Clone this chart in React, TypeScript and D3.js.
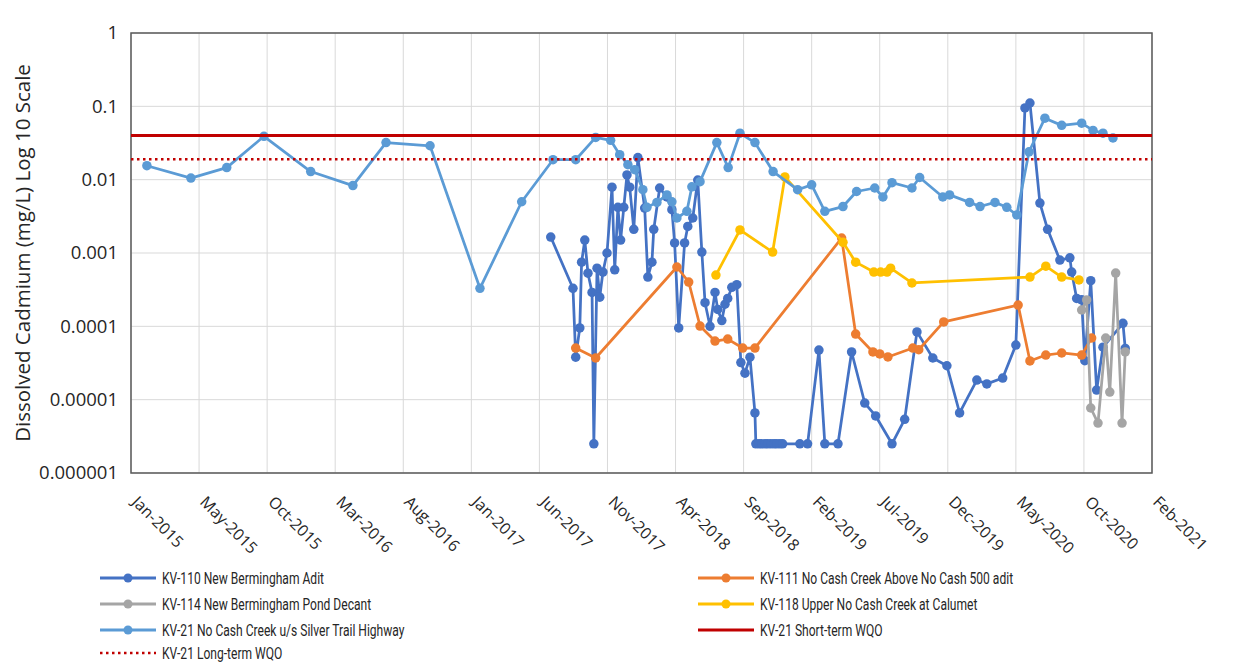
import * as d3 from 'd3';

// sample dates and dissolved cadmium (mg/L) per station
const kv110Dates = [
  '2017-07-14', '2017-09-01', '2017-09-07', '2017-09-16', '2017-09-20', '2017-09-27', '2017-10-04',
  '2017-10-13', '2017-10-17', '2017-10-24', '2017-10-30', '2017-11-06', '2017-11-15', '2017-11-26',
  '2017-12-02', '2017-12-09', '2017-12-15', '2017-12-22', '2017-12-29', '2018-01-04', '2018-01-13',
  '2018-01-22', '2018-02-06', '2018-02-13', '2018-02-22', '2018-02-26', '2018-03-11', '2018-03-27',
  '2018-04-07', '2018-04-13', '2018-04-22', '2018-05-05', '2018-05-12', '2018-05-23', '2018-06-03',
  '2018-06-12', '2018-06-19', '2018-06-30', '2018-07-11', '2018-07-17', '2018-07-26', '2018-08-02',
  '2018-08-08', '2018-08-17', '2018-08-28', '2018-09-06', '2018-09-15', '2018-09-26', '2018-10-07',
  '2018-10-09', '2018-10-16', '2018-10-22', '2018-10-29', '2018-11-04', '2018-11-11', '2018-11-18',
  '2018-11-24', '2018-12-01', '2018-12-07', '2019-01-14', '2019-01-31', '2019-02-25', '2019-03-10',
  '2019-04-08', '2019-05-08', '2019-06-06', '2019-06-30', '2019-08-05', '2019-09-02', '2019-09-29',
  '2019-11-03', '2019-12-04', '2020-01-01', '2020-02-08', '2020-03-01', '2020-04-05', '2020-05-04',
  '2020-05-24', '2020-06-04', '2020-06-26', '2020-07-13', '2020-08-09', '2020-08-31', '2020-09-04',
  '2020-09-15', '2020-09-26', '2020-10-03', '2020-10-16', '2020-10-29', '2020-11-12', '2020-12-26',
  '2020-12-31',
];
const kv110Values = [
  0.00165, 0.00033, 0.000038, 0.000095, 0.00075, 0.0015, 0.00053,
  0.00029, 0.0000025, 0.00062, 0.00025, 0.00055, 0.001, 0.0079,
  0.00059, 0.0042, 0.0015, 0.0042, 0.0116, 0.0079, 0.0021,
  0.02, 0.0041, 0.00047, 0.00075, 0.0021, 0.0077, 0.0058,
  0.0039, 0.00137, 0.000095, 0.00137, 0.0023, 0.003, 0.0099,
  0.00103, 0.00021, 0.0001, 0.00029, 0.00017, 0.00012, 0.0002,
  0.00024, 0.00034, 0.00037, 0.000032, 0.000023, 0.000038, 0.0000066,
  0.0000025, 0.0000025, 0.0000025, 0.0000025, 0.0000025, 0.0000025, 0.0000025,
  0.0000025, 0.0000025, 0.0000025, 0.0000025, 0.0000025, 0.0000475, 0.0000025,
  0.0000025, 0.0000447, 0.000009, 0.000006, 0.0000025, 0.0000054, 0.000084,
  0.000037, 0.000029, 0.0000066, 0.0000185, 0.0000164, 0.0000197, 0.0000556,
  0.095, 0.111, 0.0048, 0.0021, 0.0008, 0.00086, 0.00055,
  0.00024, 0.00023, 0.000034, 0.00042, 0.0000135, 0.000052, 0.00011,
  0.00005,
];

const kv111Dates = [
  '2017-09-07', '2017-10-21', '2018-04-18', '2018-05-14', '2018-06-08', '2018-07-11', '2018-08-08',
  '2018-09-10', '2018-10-07', '2019-04-16', '2019-05-17', '2019-06-24', '2019-07-09', '2019-07-27',
  '2019-09-20', '2019-10-03', '2019-11-27', '2020-05-09', '2020-06-04', '2020-07-09', '2020-08-13',
  '2020-09-26', '2020-10-18',
];
const kv111Values = [
  0.0000506, 0.000037, 0.000644, 0.000402, 0.000101, 0.000063, 0.000067,
  0.0000506, 0.0000506, 0.0016, 0.0000785, 0.0000447, 0.000042, 0.0000382,
  0.0000506, 0.000048, 0.000115, 0.000195, 0.0000337, 0.0000406, 0.0000433,
  0.0000406, 0.0000693,
];

const kv114Dates = [
  '2020-09-26', '2020-10-07', '2020-10-16', '2020-11-01', '2020-11-18', '2020-11-27', '2020-12-10',
  '2020-12-24', '2020-12-31',
];
const kv114Values = [
  0.000167, 0.000229, 0.0000077, 0.0000048, 0.0000693, 0.0000127, 0.000533,
  0.0000048, 0.0000447,
];

const kv118Dates = [
  '2018-07-13', '2018-09-04', '2018-11-15', '2018-12-12', '2019-04-19', '2019-05-17', '2019-06-26',
  '2019-07-11', '2019-07-25', '2019-08-02', '2019-09-18', '2020-06-04', '2020-07-09', '2020-08-13',
  '2020-09-20',
];
const kv118Values = [
  0.0005, 0.00206, 0.00103, 0.0109, 0.0014, 0.00075, 0.00055,
  0.00055, 0.00055, 0.00062, 0.00039, 0.00047, 0.00066, 0.00047,
  0.00043,
];

const kv21Dates = [
  '2015-02-05', '2015-05-13', '2015-07-31', '2015-10-21', '2016-02-01', '2016-05-04', '2016-07-16',
  '2016-10-21', '2017-02-08', '2017-05-11', '2017-07-19', '2017-09-07', '2017-10-21', '2017-11-23',
  '2017-12-13', '2017-12-31', '2018-01-15', '2018-02-02', '2018-02-11', '2018-03-05', '2018-03-27',
  '2018-04-07', '2018-04-18', '2018-05-10', '2018-05-21', '2018-06-08', '2018-07-15', '2018-08-09',
  '2018-09-04', '2018-10-07', '2018-11-16', '2019-01-09', '2019-02-09', '2019-03-10', '2019-04-19',
  '2019-05-19', '2019-06-28', '2019-07-16', '2019-08-05', '2019-09-18', '2019-10-05', '2019-11-25',
  '2019-12-10', '2020-01-23', '2020-02-15', '2020-03-19', '2020-04-14', '2020-05-06', '2020-06-02',
  '2020-07-07', '2020-08-13', '2020-09-26', '2020-10-21', '2020-11-12', '2020-12-04',
];
const kv21Values = [
  0.0155, 0.0105, 0.0146, 0.039, 0.0129, 0.0083, 0.032,
  0.029, 0.00033, 0.005, 0.0187, 0.0187, 0.0377, 0.0344,
  0.0219, 0.016, 0.0137, 0.0073, 0.0042, 0.0049, 0.0062,
  0.005, 0.003, 0.0037, 0.008, 0.0094, 0.032, 0.0146,
  0.043, 0.032, 0.0129, 0.0073, 0.0085, 0.0037, 0.0043,
  0.0069, 0.0077, 0.0058, 0.0091, 0.0077, 0.0107, 0.0058,
  0.0062, 0.0049, 0.0043, 0.0049, 0.0042, 0.0033, 0.024,
  0.069, 0.055, 0.059, 0.047, 0.043, 0.037,
];

const shortTermWqo = 0.04;
const longTermWqo = 0.019;

const yTicks = [1, 0.1, 0.01, 0.001, 0.0001, 0.00001, 0.000001];
const yTickLabels = ['1', '0.1', '0.01', '0.001', '0.0001', '0.00001', '0.000001'];
const axisStart = '2015-01-01';
const axisEnd = '2021-02-28';
const tickStepDays = 150;

const seriesNames = [
  'KV-110 New Bermingham Adit',
  'KV-111 No Cash Creek Above No Cash 500 adit',
  'KV-114 New Bermingham Pond Decant',
  'KV-118 Upper No Cash Creek at Calumet',
  'KV-21 No Cash Creek u/s Silver Trail Highway',
  'KV-21 Short-term WQO',
  'KV-21 Long-term WQO',
];
const colors = ['#4472C4', '#ED7D31', '#A5A5A5', '#FFC000', '#5B9BD5', '#C00000', '#C00000'];

const width = 1248;
const height = 663;
const margin = { top: 33, right: 96, bottom: 190, left: 131 };
const font = "'Open Sans', 'Noto Sans', sans-serif";
const legendFont = "Roboto, 'Noto Sans', sans-serif";

const parse = d3.utcParse('%Y-%m-%d');

export default function App() {
  const x = d3.scaleUtc(
    [parse(axisStart)!, parse(axisEnd)!],
    [margin.left, width - margin.right],
  );
  const y = d3.scaleLog([1e-6, 1], [height - margin.bottom, margin.top]);
  const x0 = margin.left;
  const x1 = width - margin.right;
  const y0 = height - margin.bottom;
  const y1 = margin.top;

  const xTicks = d3.range(0, 16).map((i) => d3.utcDay.offset(parse(axisStart)!, i * tickStepDays));
  const fmt = d3.utcFormat('%b-%Y');

  const series = [
    { dates: kv110Dates, values: kv110Values },
    { dates: kv111Dates, values: kv111Values },
    { dates: kv114Dates, values: kv114Values },
    { dates: kv118Dates, values: kv118Values },
    { dates: kv21Dates, values: kv21Values },
  ].map((s, i) => ({
    color: colors[i],
    pts: s.dates.map((d, j) => [x(parse(d)!), y(s.values[j])] as [number, number]),
  }));

  const line = d3.line();

  const legendRows = [
    { i: 0, lx: 100, ly: 578 },
    { i: 1, lx: 698, ly: 578 },
    { i: 2, lx: 100, ly: 604 },
    { i: 3, lx: 698, ly: 604 },
    { i: 4, lx: 100, ly: 630 },
    { i: 5, lx: 698, ly: 630 },
    { i: 6, lx: 100, ly: 653 },
  ];

  return (
    <svg
      width={width}
      height={height}
      style={{ position: 'absolute', left: 0, top: 0, background: '#fff' }}
    >
      {/* grid */}
      <g stroke='#d9d9d9' strokeWidth={1}>
        {yTicks.map((t) => (
          <line key={t} x1={x0} x2={x1} y1={y(t)} y2={y(t)} />
        ))}
        {xTicks.map((t, i) => (
          <line key={i} x1={x(t)} x2={x(t)} y1={y0} y2={y1} />
        ))}
      </g>
      <rect x={x0} y={y1} width={x1 - x0} height={y0 - y1} fill='none' stroke='#595959' strokeWidth={1.5} />

      {/* y axis */}
      <g fontFamily={font} fontSize={18.5} fill='#262626' textAnchor='end'>
        {yTicks.map((t, i) => (
          <text key={t} x={x0 - 13} y={y(t)} dy='0.35em'>
            {yTickLabels[i]}
          </text>
        ))}
      </g>
      <text
        transform={`translate(30,${(y0 + y1) / 2}) rotate(-90)`}
        textAnchor='middle'
        fontFamily={font}
        fontSize={20.5}
        fill='#262626'
      >
        Dissolved Cadmium (mg/L) Log 10 Scale
      </text>

      {/* x axis */}
      <g fontFamily={font} fontSize={16} fill='#262626'>
        {xTicks.map((t, i) => (
          <text key={i} transform={`translate(${x(t)},${y0 + 30}) rotate(45)`}>
            {fmt(t)}
          </text>
        ))}
      </g>

      {/* series */}
      {series.map((s, i) => (
        <g key={i}>
          <path d={line(s.pts) ?? ''} fill='none' stroke={s.color} strokeWidth={2.75} strokeLinejoin='round' />
          {s.pts.map((p, j) => (
            <circle key={j} cx={p[0]} cy={p[1]} r={4.75} fill={s.color} />
          ))}
        </g>
      ))}

      {/* water quality objectives */}
      <line x1={x0} x2={x1} y1={y(shortTermWqo)} y2={y(shortTermWqo)} stroke={colors[5]} strokeWidth={3} />
      <line
        x1={x0}
        x2={x1}
        y1={y(longTermWqo)}
        y2={y(longTermWqo)}
        stroke={colors[6]}
        strokeWidth={2.5}
        strokeDasharray='2.5 3.5'
      />

      {/* legend */}
      <g fontFamily={legendFont} fontSize={17} fill='#262626'>
        {legendRows.map((r) => (
          <g key={r.i}>
            <line
              x1={r.lx}
              x2={r.lx + 56}
              y1={r.ly}
              y2={r.ly}
              stroke={colors[r.i]}
              strokeWidth={r.i === 6 ? 2.5 : 3}
              strokeDasharray={r.i === 6 ? '2.5 3.5' : undefined}
            />
            {r.i < 5 && <circle cx={r.lx + 28} cy={r.ly} r={4.5} fill={colors[r.i]} />}
            <text transform={`translate(${r.lx + 62},${r.ly}) scale(0.71,1)`} dy='0.35em'>
              {seriesNames[r.i]}
            </text>
          </g>
        ))}
      </g>
    </svg>
  );
}
